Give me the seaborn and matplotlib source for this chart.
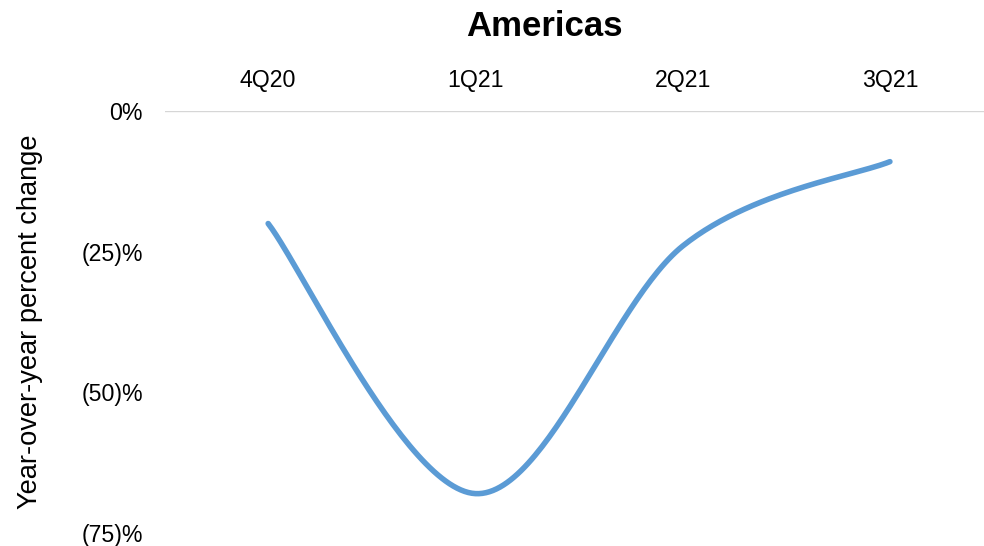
import numpy as np
import pandas as pd
import matplotlib
matplotlib.use("Agg")
import matplotlib.pyplot as plt
import seaborn as sns

# Quarterly year-over-year change, Americas (percent)
quarters = ["4Q20", "1Q21", "2Q21", "3Q21"]
yoy_change = [-20, -68, -24, -9]

y_ticks = [0, -25, -50, -75]
y_tick_labels = ["0%", "(25)%", "(50)%", "(75)%"]


def smooth_curve(xs, ys, steps=60):
    """Catmull-Rom spline through the points (same look as a smoothed office chart line)."""
    pts = np.column_stack([xs, ys]).astype(float)
    padded = np.vstack([pts[0], pts, pts[-1]])
    out = []
    t = np.linspace(0, 1, steps)[:, None]
    for i in range(1, len(padded) - 2):
        p0, p1, p2, p3 = padded[i - 1], padded[i], padded[i + 1], padded[i + 2]
        seg = 0.5 * ((2 * p1) + (-p0 + p2) * t + (2 * p0 - 5 * p1 + 4 * p2 - p3) * t ** 2
                     + (-p0 + 3 * p1 - 3 * p2 + p3) * t ** 3)
        out.append(seg if i == 1 else seg[1:])
    return np.vstack(out)


sns.set_theme(style="white")
plt.rcParams["font.family"] = ["Liberation Sans", "DejaVu Sans"]

fig = plt.figure(figsize=(9.84, 5.46), dpi=100)
ax = fig.add_axes([0.1672, 0.0238, 0.8425, 0.7729])

xpos = np.arange(len(quarters))
curve = smooth_curve(xpos, yoy_change)
df = pd.DataFrame({"pos": curve[:, 0], "change": curve[:, 1]})

sns.lineplot(data=df, x="pos", y="change", ax=ax, color="#5B9BD5",
             linewidth=4.0, sort=False, estimator=None)
for ln in ax.lines:
    ln.set_solid_capstyle("round")

ax.set_xlim(-0.5, len(quarters) - 0.5)
ax.set_ylim(-75, 0)

ax.xaxis.tick_top()
ax.set_xticks(xpos)
ax.set_xticklabels(quarters, fontsize=16.7, color="#000000")
ax.set_yticks(y_ticks)
ax.set_yticklabels(y_tick_labels, fontsize=16.7, color="#000000")
ax.tick_params(axis="x", length=0, pad=13.5)
ax.tick_params(axis="y", length=0, pad=15.5)

ax.axhline(0, color="#D6D6D6", linewidth=1.7, zorder=0)
for s in ax.spines.values():
    s.set_visible(False)

ax.set_xlabel("")
ax.set_ylabel("Year-over-year percent change", fontsize=19.6, color="#000000")
ax.yaxis.set_label_coords(-0.1466, 0.5)

fig.text(544 / 984, 1 - 27 / 546, "Americas", ha="center", va="center",
         fontsize=25, fontweight="bold", color="#000000")

fig.savefig("out.png", dpi=100)
